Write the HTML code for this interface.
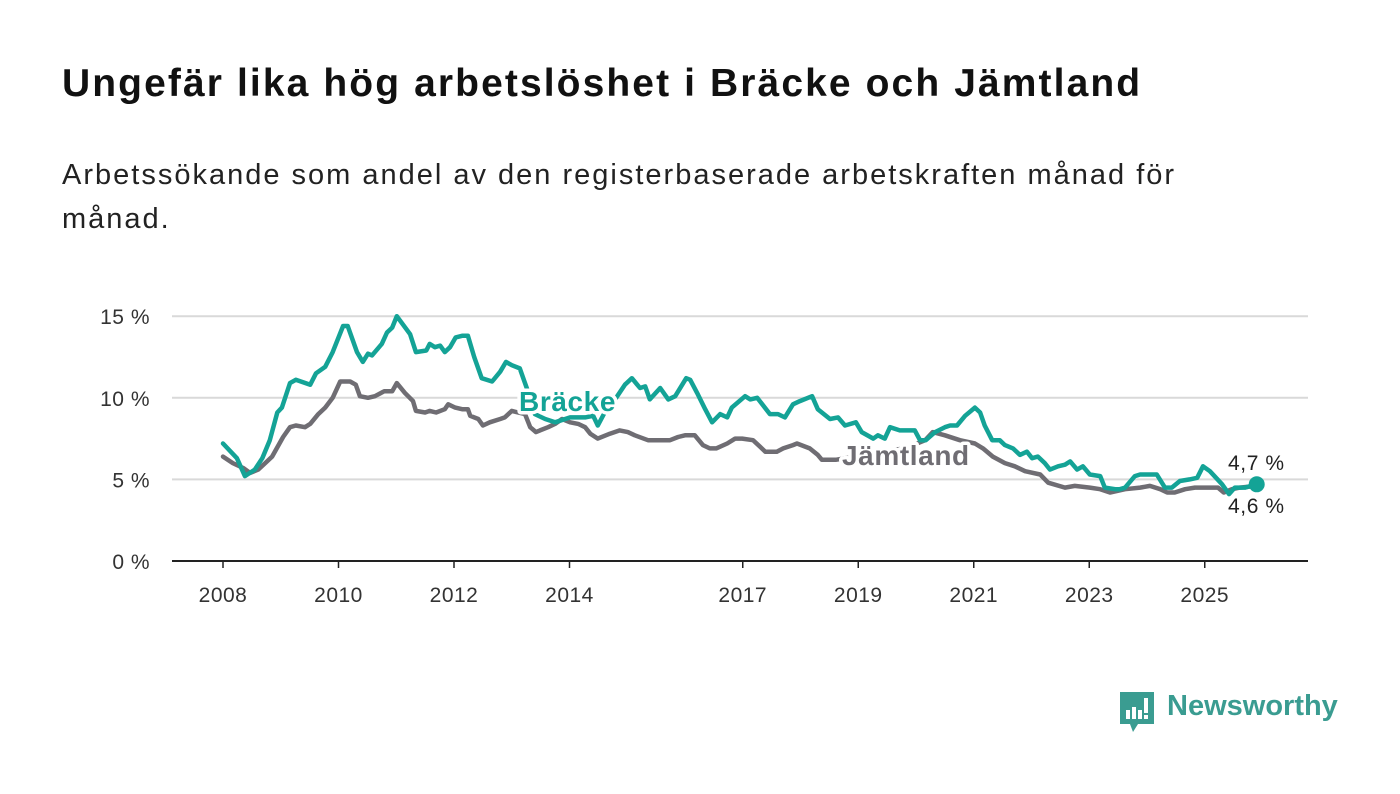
<!DOCTYPE html>
<html><head><meta charset="utf-8">
<style>
html,body{margin:0;padding:0;background:#fff;}
body{width:1400px;height:794px;position:relative;overflow:hidden;font-family:"Liberation Sans",sans-serif;color:#111;}
h1{position:absolute;left:62px;top:62px;margin:0;font-size:39px;font-weight:bold;letter-spacing:2.1px;white-space:nowrap;}
.sub{position:absolute;left:62px;top:153px;width:1200px;margin:0;font-size:29px;line-height:44px;color:#222;letter-spacing:2px;}
svg{position:absolute;left:0;top:0;}
.logo{position:absolute;left:1118px;top:690px;}
.logotext{position:absolute;left:1167px;top:690px;font-size:29px;font-weight:bold;color:#3a9c91;}
</style></head>
<body>
<h1>Ungefär lika hög arbetslöshet i Bräcke och Jämtland</h1>
<p class="sub">Arbetssökande som andel av den registerbaserade arbetskraften månad för månad.</p>
<svg id="chart" width="1400" height="794"></svg>
<svg class="logo" width="40" height="46" viewBox="0 0 40 46">
<path d="M2 2 H36 V34 H20 L15 42 L12 34 H2 Z" fill="#3a9c91"/>
<rect x="8" y="20" width="4" height="9" fill="#fff"/><rect x="14" y="17" width="4" height="12" fill="#fff"/><rect x="20" y="20" width="4" height="9" fill="#fff"/><rect x="26" y="8" width="4" height="15" fill="#fff"/><rect x="26" y="25" width="4" height="4" fill="#fff"/>
</svg>
<div class="logotext">Newsworthy</div>
<script>
const yTicks=[0,5,10,15];
const yTickLabels=["0 %","5 %","10 %","15 %"];
const xTicks=[2008,2010,2012,2014,2017,2019,2021,2023,2025];
const xTickLabels=["2008","2010","2012","2014","2017","2019","2021","2023","2025"];
const brackeDates=[2008.00,2008.24,2008.38,2008.55,2008.68,2008.81,2008.94,2009.02,2009.16,2009.26,2009.51,2009.61,2009.77,2009.90,2010.08,2010.16,2010.32,2010.42,2010.51,2010.58,2010.75,2010.84,2010.93,2011.01,2011.24,2011.34,2011.52,2011.58,2011.67,2011.76,2011.84,2011.93,2012.03,2012.14,2012.24,2012.35,2012.48,2012.66,2012.80,2012.90,2013.00,2013.14,2013.28,2013.40,2013.58,2013.75,2014.01,2014.27,2014.41,2014.49,2014.61,2014.79,2014.96,2015.08,2015.22,2015.31,2015.39,2015.57,2015.71,2015.83,2016.02,2016.09,2016.21,2016.35,2016.47,2016.61,2016.73,2016.81,2017.04,2017.13,2017.25,2017.47,2017.61,2017.73,2017.87,2017.99,2018.20,2018.30,2018.51,2018.65,2018.77,2018.96,2019.06,2019.26,2019.34,2019.46,2019.55,2019.72,2019.98,2020.07,2020.17,2020.33,2020.50,2020.59,2020.71,2020.85,2021.02,2021.11,2021.19,2021.32,2021.45,2021.54,2021.68,2021.80,2021.92,2022.01,2022.11,2022.23,2022.32,2022.46,2022.58,2022.67,2022.79,2022.89,2023.01,2023.19,2023.27,2023.45,2023.53,2023.62,2023.79,2023.88,2024.05,2024.17,2024.31,2024.43,2024.57,2024.74,2024.87,2024.97,2025.09,2025.30,2025.42,2025.52,2025.70,2025.90];
const brackeValues=[7.2,6.3,5.2,5.6,6.3,7.4,9.1,9.4,10.9,11.1,10.8,11.5,11.9,12.8,14.4,14.4,12.8,12.2,12.7,12.6,13.3,14.0,14.3,15.0,13.9,12.8,12.9,13.3,13.1,13.2,12.8,13.1,13.7,13.8,13.8,12.5,11.2,11.0,11.6,12.2,12.0,11.8,10.4,9.0,8.7,8.5,8.8,8.8,8.9,8.3,9.1,9.9,10.8,11.2,10.6,10.7,9.9,10.6,9.9,10.1,11.2,11.1,10.3,9.3,8.5,9.0,8.8,9.4,10.1,9.9,10.0,9.0,9.0,8.8,9.6,9.8,10.1,9.3,8.7,8.8,8.3,8.5,7.9,7.5,7.7,7.5,8.2,8.0,8.0,7.4,7.4,7.9,8.2,8.3,8.3,8.9,9.4,9.1,8.3,7.4,7.4,7.1,6.9,6.5,6.7,6.3,6.4,6.0,5.6,5.8,5.9,6.1,5.6,5.8,5.3,5.2,4.5,4.4,4.4,4.5,5.2,5.3,5.3,5.3,4.5,4.5,4.9,5.0,5.1,5.8,5.5,4.7,4.1,4.5,4.5,4.7];
const jamtDates=[2008.00,2008.17,2008.35,2008.47,2008.61,2008.73,2008.85,2009.04,2009.16,2009.26,2009.42,2009.51,2009.65,2009.77,2009.90,2010.03,2010.20,2010.30,2010.37,2010.51,2010.63,2010.79,2010.93,2011.01,2011.15,2011.29,2011.34,2011.50,2011.58,2011.69,2011.84,2011.90,2012.02,2012.14,2012.24,2012.28,2012.42,2012.50,2012.62,2012.80,2012.88,2013.00,2013.11,2013.23,2013.32,2013.42,2013.49,2013.63,2013.75,2013.87,2014.01,2014.15,2014.27,2014.36,2014.49,2014.70,2014.87,2015.01,2015.13,2015.36,2015.74,2015.88,2016.00,2016.17,2016.31,2016.43,2016.54,2016.73,2016.87,2016.99,2017.18,2017.30,2017.39,2017.59,2017.70,2017.87,2017.94,2018.16,2018.30,2018.37,2018.61,2018.94,2019.38,2019.81,2020.16,2020.29,2020.50,2020.76,2021.02,2021.16,2021.33,2021.54,2021.71,2021.89,2022.15,2022.29,2022.58,2022.75,2023.01,2023.19,2023.36,2023.62,2023.88,2024.05,2024.23,2024.35,2024.48,2024.66,2024.83,2025.00,2025.23,2025.33,2025.47,2025.61,2025.90];
const jamtValues=[6.4,6.0,5.7,5.4,5.6,6.0,6.4,7.6,8.2,8.3,8.2,8.4,9.0,9.4,10.0,11.0,11.0,10.8,10.1,10.0,10.1,10.4,10.4,10.9,10.3,9.8,9.2,9.1,9.2,9.1,9.3,9.6,9.4,9.3,9.3,8.9,8.7,8.3,8.5,8.7,8.8,9.2,9.1,9.0,8.2,7.9,8.0,8.2,8.4,8.7,8.5,8.4,8.2,7.8,7.5,7.8,8.0,7.9,7.7,7.4,7.4,7.6,7.7,7.7,7.1,6.9,6.9,7.2,7.5,7.5,7.4,7.0,6.7,6.7,6.9,7.1,7.2,6.9,6.5,6.2,6.2,6.4,6.7,6.9,7.4,7.9,7.7,7.4,7.2,6.9,6.4,6.0,5.8,5.5,5.3,4.8,4.5,4.6,4.5,4.4,4.2,4.4,4.5,4.6,4.4,4.2,4.2,4.4,4.5,4.5,4.5,4.2,4.4,4.5,4.6];
const brackeLast="4,7 %", jamtLast="4,6 %";

const NS="http://www.w3.org/2000/svg";
const svg=document.getElementById('chart');
const X0=172,X1=1308;
function xs(t){return 223+(t-2008)*57.75;}
function ys(v){return 561-v*16.32;}
function mk(tag,attrs,parent){const e=document.createElementNS(NS,tag);for(const k in attrs)e.setAttribute(k,attrs[k]);(parent||svg).appendChild(e);return e;}

yTicks.forEach((v,i)=>{
  if(v>0){const g=mk('line',{x1:X0,x2:X1,y1:ys(v),y2:ys(v),stroke:'#d9d9d9','stroke-width':2});
  
  }
  const t=mk('text',{x:150,y:ys(v)+8,'text-anchor':'end','font-size':21,'letter-spacing':0.5,fill:'#333','font-family':'Liberation Sans, sans-serif'});
  t.textContent=yTickLabels[i];
  
  
});
const ax=mk('line',{x1:X0,x2:X1,y1:561,y2:561,stroke:'#222','stroke-width':2});


xTicks.forEach((v,i)=>{
  const tk=mk('line',{x1:xs(v),x2:xs(v),y1:561,y2:568,stroke:'#222','stroke-width':1.5});
  
  
  const t=mk('text',{x:xs(v),y:602,'text-anchor':'middle','font-size':21,'letter-spacing':0.5,fill:'#333','font-family':'Liberation Sans, sans-serif'});
  t.textContent=xTickLabels[i];
  
  
});
function path(d,v){return d.map((t,i)=>(i?'L':'M')+xs(t).toFixed(1)+' '+ys(v[i]).toFixed(1)).join(' ');}
const jl=mk('path',{d:path(jamtDates,jamtValues),fill:'none',stroke:'#6f6d73','stroke-width':4.5,'stroke-linejoin':'round','stroke-linecap':'round'});


const bl=mk('path',{d:path(brackeDates,brackeValues),fill:'none',stroke:'#14a396','stroke-width':4.5,'stroke-linejoin':'round','stroke-linecap':'round'});



function label(txt,x,y,col,name,size,bold){
  const h=mk('text',{x:x,y:y,'font-size':size,'font-weight':bold?'bold':'normal','letter-spacing':0.6,fill:'#fff',stroke:'#fff','stroke-width':7,'stroke-linejoin':'round','font-family':'Liberation Sans, sans-serif'});
  h.textContent=txt;
  
  
  const t=mk('text',{x:x,y:y,'font-size':size,'font-weight':bold?'bold':'normal','letter-spacing':0.6,fill:col,'font-family':'Liberation Sans, sans-serif'});
  t.textContent=txt;
  
  
}
label('Bräcke',519,411,'#14a396','bracke-label',28,true);
label('Jämtland',842,465,'#6f6d73','jamtland-label',28,true);
const lb=brackeDates.length-1;
const dot=mk('circle',{cx:xs(brackeDates[lb]),cy:ys(brackeValues[lb]),r:8,fill:'#14a396'});


label(brackeLast,1228,470,'#222','bracke-end-value',21,false);
label(jamtLast,1228,513,'#222','jamtland-end-value',21,false);
</script>
</body></html>
